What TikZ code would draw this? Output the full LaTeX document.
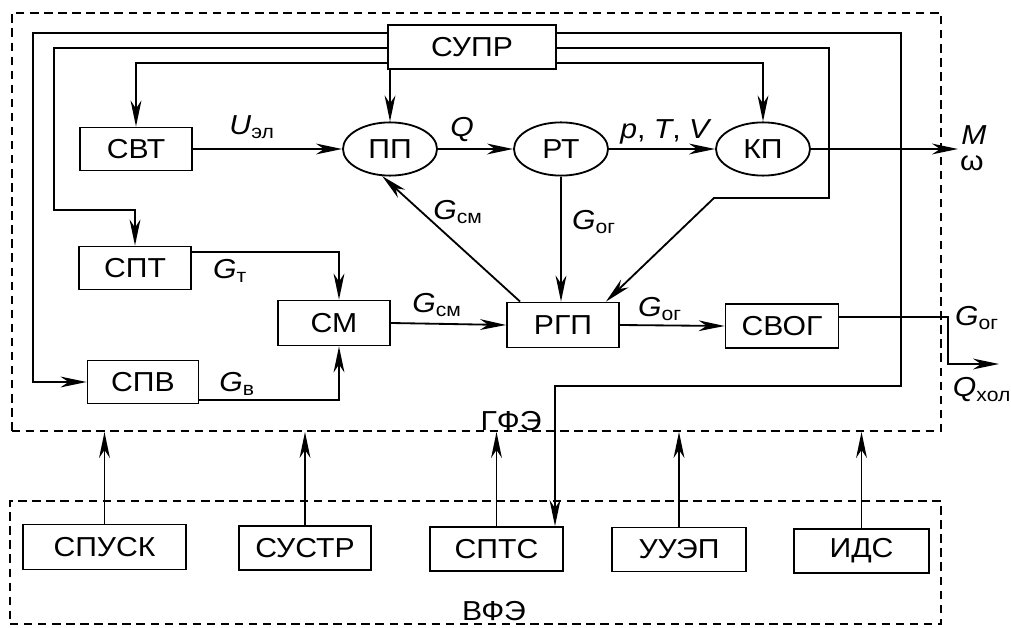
\documentclass[tikz,border=0pt]{standalone}
\usepackage{fontspec}
\setmainfont{Liberation Sans}[FakeStretch=1.1]
\usetikzlibrary{arrows.meta,shapes.geometric,calc}
\newcommand\GLbl[1]{\textit{G}\textsubscript{#1}}
\begin{document}
\begin{tikzpicture}[x=0.025cm,y=-0.025cm,
  font=\fontsize{19.5}{21}\selectfont,
  blk/.style={draw,line width=1.3pt,inner sep=0pt},
  ell/.style={draw,ellipse,line width=1.3pt,inner sep=0pt,minimum width=2.35cm,minimum height=1.33cm},
  ln/.style={line width=1.3pt},
  arr/.style={ln,-{Stealth[length=0.65cm,width=0.27cm,inset=0.2cm]}},
  dbox/.style={draw,dash pattern=on 6pt off 4pt,line width=1.3pt,inner sep=0pt},
  lbl/.style={inner sep=0pt}]
\useasboundingbox (0,0) rectangle (1011,628);
% dashed frames
\node[dbox,minimum width=23.225cm,minimum height=10.45cm] (gfe) at (476.5,222) {};
\node[dbox,minimum width=23.275cm,minimum height=3.075cm] (vfe) at (475.5,562.5) {};
% blocks
\node[blk,minimum width=4.2cm,minimum height=1.1cm] (supr) at (472,47) {СУПР};
\node[blk,minimum width=2.8cm,minimum height=1.075cm] (svt) at (136,149) {СВТ};
\node[ell] (pp) at (390,149) {ПП};
\node[ell] (rt) at (561,149) {РТ};
\node[ell] (kp) at (763,149) {КП};
\node[blk,minimum width=2.8cm,minimum height=1.075cm] (spt) at (135,268) {СПТ};
\node[blk,minimum width=2.8cm,minimum height=1.125cm] (sm) at (334,323) {СМ};
\node[blk,minimum width=2.8cm,minimum height=1.125cm] (rgp) at (563,325) {РГП};
\node[blk,minimum width=2.825cm,minimum height=1.1cm] (svog) at (782,326) {СВОГ};
\node[blk,minimum width=2.775cm,minimum height=1.075cm] (spv) at (143,382) {СПВ};
\node[blk,minimum width=4.075cm,minimum height=1.125cm] (spusk) at (104.5,547) {СПУСК};
\node[blk,minimum width=3.3cm,minimum height=1.1cm] (sustr) at (305,548) {СУСТР};
\node[blk,minimum width=3.325cm,minimum height=1.1cm] (spts) at (496.5,549) {СПТС};
\node[blk,minimum width=3.35cm,minimum height=1.1cm] (uuep) at (679,549.5) {УУЭП};
\node[blk,minimum width=3.375cm,minimum height=1.1cm] (ids) at (861.5,551) {ИДС};
% helper coordinates
\coordinate (a33) at (0,33);
\coordinate (a48) at (0,48);
\coordinate (a63) at (0,63);
\coordinate (c33) at (33,382);
\coordinate (c54) at (54,210);
\coordinate (c901) at (901,386);
\coordinate (c555) at (555,386);
\coordinate (c829) at (829,198);
\coordinate (c714) at (714,198);
\coordinate (t1) at (339,252);
\coordinate (t2) at (339,400);
\coordinate (o1) at (948,317);
\coordinate (o2) at (948,364);
\coordinate (qout) at (999,364);
\coordinate (mout) at (958,149);
% control lines from СУПР
\draw[arr] (supr.west |- a33) -| (c33) -- (spv.west);
\draw[arr] (supr.west |- a48) -| (c54) -| (spt.north);
\draw[arr] (supr.west |- a63) -| (svt.north);
\draw[arr] (pp.north |- supr.south) -- (pp.north);
\draw[arr] (supr.east |- a33) -| (c901) -- (c555) -- (c555 |- spts.north);
\draw[arr] (supr.east |- a48) -| (c829) -- (c714) -- ($(rgp.north east)+(-14,0)$);
\draw[arr] (supr.east |- a63) -| (kp.north);
% main flow
\draw[arr] (svt.east) -- (pp.west);
\draw[arr] (pp.east) -- (rt.west);
\draw[arr] (rt.east) -- (kp.west);
\draw[arr] (kp.east) -- (mout);
\draw[arr] (rt.south) -- (rt.south |- rgp.north);
\draw[arr] ($(rgp.north west)+(14,0)$) -- (pp.254);
\draw[arr] (spt.east |- t1) -- (t1) -- (t1 |- sm.north);
\draw[arr] (spv.east |- t2) -- (t2) -- (t2 |- sm.south);
\draw[arr] (sm.east) -- (rgp.west);
\draw[arr] (rgp.east) -- (svog.west);
\draw[arr] (svog.east |- o1) -- (o1) -- (o2) -- (qout);
% bottom arrows
\foreach \b in {spusk,sustr,spts,uuep,ids}
  \draw[arr] (\b.north) -- (\b.north |- gfe.south);
% labels
\node[lbl] (lu) at (252,127) {\textit{U}\textsubscript{эл}};
\node[lbl] (lq) at (462,130) {\textit{Q}};
\node[lbl] (lptv) at (666,132) {\textit{p}, \textit{T}, \textit{V}};
\node[lbl] (lgcm1) at (458,212) {\GLbl{см}};
\node[lbl] (lgog1) at (594,222) {\GLbl{ог}};
\node[lbl] (lgt) at (230,271) {\GLbl{т}};
\node[lbl] (lgv) at (237,384) {\GLbl{в}};
\node[lbl] (lgcm2) at (437,305) {\GLbl{см}};
\node[lbl] (lgog2) at (660,309) {\GLbl{ог}};
\node[lbl] (lgog3) at (977,318) {\GLbl{ог}};
\node[lbl] (lqx) at (982,390) {\textit{Q}\textsubscript{хол}};
\node[lbl,anchor=base] (lm) at (974,145) {\textit{M}};
\node[lbl,anchor=north] (lw) at (972,155) {ω};
\node[lbl] (lgfe) at (511,421) {ГФЭ};
\node[lbl] (lvfe) at (494,611) {ВФЭ};
\end{tikzpicture}
\end{document}
